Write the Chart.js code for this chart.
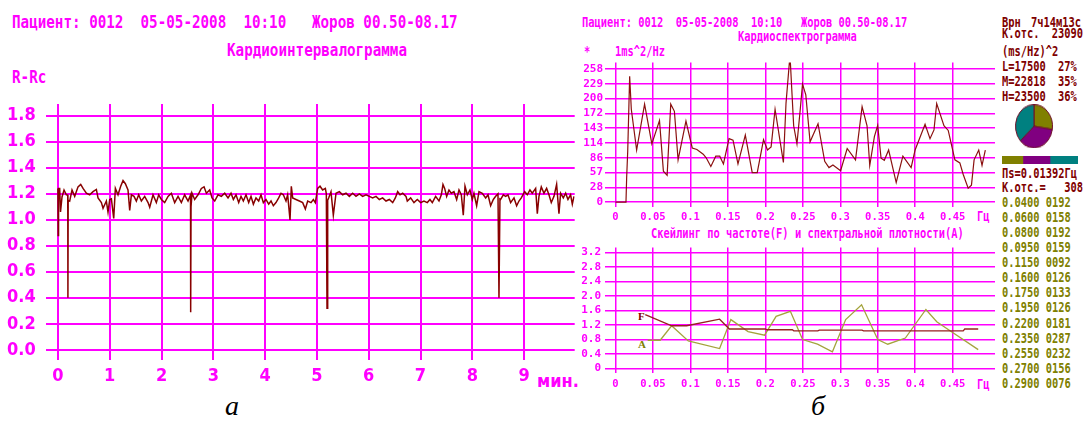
<!DOCTYPE html>
<html lang="ru">
<head>
<meta charset="UTF-8">
<title>Кардиоинтервалограмма и кардиоспектрограмма</title>
<script src="https://cdn.jsdelivr.net/npm/chart.js"></script>
<style>
    html, body { margin: 0; padding: 0; background: #fff; }
    body { width: 1086px; height: 426px; position: relative; overflow: hidden; }
    .box { position: absolute; }
    .t { position: absolute; white-space: pre; line-height: 1; font-family: 'DejaVu Sans Mono', monospace; font-weight: bold; transform-origin: left 50%; }
    .big { font-size: 14.24px; transform: scaleY(1.25); color: #f0f; }
    .sm { font-size: 10.4px; transform: scaleY(1.3); }
    .mg { color: #f0f; }
    .dr { color: #800000; }
    .ol { color: #808000; }
    .cap { position: absolute; font: italic 28px 'Liberation Serif', serif; color: #000; }
</style>
</head>
<body>

<!-- left panel texts -->
<div class="t big" style="left:12px;top:14.6px">Пациент: 0012  05-05-2008  10:10   Жоров 00.50-08.17</div>
<div class="t big" style="left:227px;top:43px">Кардиоинтервалограмма</div>
<div class="t big" style="left:12px;top:69.6px">R-Rc</div>
<div class="t mg" style="left:537px;top:370px;font:bold 18px 'Liberation Sans Narrow','DejaVu Sans Condensed',sans-serif">мин.</div>

<!-- right panel texts -->
<div class="t sm mg" style="left:582px;top:16.5px">Пациент: 0012  05-05-2008  10:10   Жоров 00.50-08.17</div>
<div class="t sm mg" style="left:738px;top:30.8px">Кардиоспектрограмма</div>
<div class="t sm mg" style="left:584px;top:45.5px">*</div>
<div class="t sm mg" style="left:615px;top:45.5px">1ms^2/Hz</div>
<div class="t sm mg" style="left:977px;top:211px">Гц</div>
<div class="t sm mg" style="left:651px;top:228.1px">Скейлинг по частоте(F) и спектральной плотности(A)</div>
<div class="t sm mg" style="left:977px;top:379px">Гц</div>
<div class="t dr" style="left:638px;top:310px;font:bold 11px 'Liberation Serif',serif">F</div>
<div class="t ol" style="left:638px;top:337.5px;font:bold 11px 'Liberation Serif',serif">A</div>

<!-- right column -->
<div class="t sm dr" style="left:1002px;top:16.5px">Врн</div>
<div class="t sm dr" style="left:1031px;top:16.5px">7ч14м13с</div>
<div class="t sm dr" style="left:1002px;top:28.1px">К.отс.</div>
<div class="t sm dr" style="right:3px;top:28.1px">23090</div>
<div class="t sm dr" style="left:1002px;top:45.5px">(ms/Hz)^2</div>
<div class="t sm dr" style="left:1002px;top:60.8px">L=17500</div>
<div class="t sm dr" style="left:1058px;top:60.8px">27%</div>
<div class="t sm dr" style="left:1002px;top:75.5px">M=22818</div>
<div class="t sm dr" style="left:1058px;top:75.5px">35%</div>
<div class="t sm dr" style="left:1002px;top:90.8px">H=23500</div>
<div class="t sm dr" style="left:1058px;top:90.8px">36%</div>
<div class="t sm dr" style="left:1002px;top:167.5px">Пs=0.01392Гц</div>
<div class="t sm dr" style="left:1002px;top:182.1px">К.отс.=</div>
<div class="t sm dr" style="right:3px;top:182.1px">308</div>
<div class="t sm ol" style="left:1002px;top:196.5px">0.0400 0192</div>
<div class="t sm ol" style="left:1002px;top:211.8px">0.0600 0158</div>
<div class="t sm ol" style="left:1002px;top:227.1px">0.0800 0192</div>
<div class="t sm ol" style="left:1002px;top:242.1px">0.0950 0159</div>
<div class="t sm ol" style="left:1002px;top:257.1px">0.1150 0092</div>
<div class="t sm ol" style="left:1002px;top:272.1px">0.1600 0126</div>
<div class="t sm ol" style="left:1002px;top:287.1px">0.1750 0133</div>
<div class="t sm ol" style="left:1002px;top:302.1px">0.1950 0126</div>
<div class="t sm ol" style="left:1002px;top:317.5px">0.2200 0181</div>
<div class="t sm ol" style="left:1002px;top:332.5px">0.2350 0287</div>
<div class="t sm ol" style="left:1002px;top:347.5px">0.2550 0232</div>
<div class="t sm ol" style="left:1002px;top:362.5px">0.2700 0156</div>
<div class="t sm ol" style="left:1002px;top:378.1px">0.2900 0076</div>

<div class="cap" style="left:225px;top:390px">а</div>
<div class="cap" style="left:811px;top:390px">б</div>

<div class="box" style="left:0;top:85px"><canvas id="rrChart" width="600" height="305"></canvas></div>
<div class="box" style="left:575px;top:55px"><canvas id="specChart" width="425" height="170"></canvas></div>
<div class="box" style="left:575px;top:238px"><canvas id="scaleChart" width="425" height="155"></canvas></div>
<div class="box" style="left:1015px;top:104px;width:38px;height:38px;transform:scaleY(1.17);transform-origin:top left"><canvas id="pieChart" width="38" height="38"></canvas></div>
<div class="box" style="left:1002px;top:156px"><canvas id="bandBar" width="76" height="8"></canvas></div>

<script>
// ---- left: R-R intervals (s) over time (min)
const rrMinutes = [
    0.000, 0.005, 0.012, 0.034, 0.050, 0.079, 0.118, 0.163, 0.190, 0.193,
    0.198, 0.227, 0.272, 0.324, 0.388, 0.440, 0.485, 0.549, 0.613, 0.678,
    0.742, 0.774, 0.839, 0.871, 0.935, 0.967, 1.000, 1.032, 1.077, 1.109,
    1.160, 1.212, 1.257, 1.302, 1.353, 1.386, 1.418, 1.469, 1.514, 1.559,
    1.611, 1.675, 1.740, 1.772, 1.836, 1.900, 1.945, 1.997, 2.061, 2.126,
    2.190, 2.254, 2.319, 2.383, 2.447, 2.512, 2.560, 2.563, 2.570, 2.589,
    2.640, 2.705, 2.769, 2.821, 2.866, 2.930, 2.975, 3.027, 3.091, 3.155,
    3.220, 3.284, 3.342, 3.387, 3.438, 3.490, 3.535, 3.580, 3.631, 3.683,
    3.728, 3.773, 3.824, 3.876, 3.921, 3.966, 4.017, 4.069, 4.114, 4.159,
    4.210, 4.262, 4.307, 4.352, 4.403, 4.435, 4.481, 4.506, 4.532, 4.596,
    4.661, 4.725, 4.777, 4.822, 4.886, 4.931, 4.970, 5.015, 5.060, 5.111,
    5.163, 5.182, 5.195, 5.208, 5.227, 5.272, 5.317, 5.369, 5.433, 5.497,
    5.562, 5.626, 5.690, 5.755, 5.819, 5.883, 5.948, 6.012, 6.076, 6.141,
    6.205, 6.269, 6.334, 6.398, 6.463, 6.514, 6.559, 6.604, 6.656, 6.720,
    6.745, 6.810, 6.874, 6.938, 7.003, 7.067, 7.131, 7.183, 7.228, 7.292,
    7.357, 7.402, 7.434, 7.466, 7.505, 7.550, 7.595, 7.646, 7.698, 7.743,
    7.788, 7.826, 7.859, 7.904, 7.955, 8.000, 8.032, 8.084, 8.129, 8.193,
    8.258, 8.303, 8.354, 8.406, 8.451, 8.496, 8.515, 8.534, 8.547, 8.599,
    8.644, 8.689, 8.740, 8.805, 8.856, 8.901, 8.946, 9.011, 9.062, 9.113,
    9.158, 9.223, 9.255, 9.287, 9.332, 9.384, 9.435, 9.480, 9.525, 9.577,
    9.628, 9.673, 9.705, 9.757, 9.802, 9.847, 9.898, 9.931, 9.963
];
const rrValues = [
    1.24, 0.88, 1.24, 1.24, 1.06, 1.175, 1.229, 1.192, 1.19, 0.40,
    1.15, 1.144, 1.229, 1.18, 1.253, 1.272, 1.241, 1.204, 1.192, 1.216,
    1.233, 1.168, 1.132, 1.088, 1.144, 1.059, 1.156, 1.161, 1.011, 1.241,
    1.192, 1.258, 1.301, 1.277, 1.229, 1.071, 1.192, 1.18, 1.144, 1.192,
    1.144, 1.18, 1.132, 1.096, 1.192, 1.132, 1.192, 1.156, 1.132, 1.18,
    1.204, 1.132, 1.18, 1.132, 1.192, 1.144, 1.19, 0.29, 1.10, 1.204,
    1.156, 1.192, 1.241, 1.253, 1.204, 1.229, 1.168, 1.144, 1.192, 1.18,
    1.204, 1.168, 1.204, 1.156, 1.192, 1.132, 1.18, 1.144, 1.192, 1.132,
    1.18, 1.12, 1.168, 1.144, 1.192, 1.132, 1.156, 1.12, 1.144, 1.108,
    1.132, 1.168, 1.204, 1.192, 1.144, 1.192, 0.999, 1.258, 1.168, 1.156,
    1.144, 1.132, 1.083, 1.144, 1.132, 1.156, 1.132, 1.241, 1.258, 1.229,
    1.241, 1.20, 0.32, 1.15, 1.168, 1.216, 1.035, 1.204, 1.216, 1.192,
    1.204, 1.18, 1.204, 1.18, 1.199, 1.18, 1.192, 1.18, 1.168, 1.18,
    1.156, 1.168, 1.144, 1.156, 1.132, 1.168, 1.216, 1.192, 1.204, 1.18,
    1.144, 1.168, 1.132, 1.156, 1.132, 1.144, 1.132, 1.156, 1.132, 1.18,
    1.144, 1.192, 1.272, 1.241, 1.18, 1.229, 1.204, 1.216, 1.156, 1.229,
    1.192, 1.035, 1.258, 1.192, 1.229, 1.156, 1.204, 1.108, 1.216, 1.204,
    1.168, 1.192, 1.108, 1.156, 1.18, 1.199, 0.40, 1.16, 1.156, 1.192,
    1.18, 1.192, 1.132, 1.168, 1.108, 1.144, 1.168, 1.216, 1.192, 1.229,
    1.204, 1.241, 1.047, 1.18, 1.253, 1.204, 1.241, 1.192, 1.132, 1.18,
    1.272, 1.047, 1.204, 1.168, 1.204, 1.156, 1.192, 1.12, 1.18
];
const minuteTicks = [0, 1, 2, 3, 4, 5, 6, 7, 8, 9];
const minuteLabels = ['0', '1', '2', '3', '4', '5', '6', '7', '8', '9'];
const rrTicks = [0, 0.2, 0.4, 0.6, 0.8, 1.0, 1.2, 1.4, 1.6, 1.8];
const rrTickLabels = ['0.0', '0.2', '0.4', '0.6', '0.8', '1.0', '1.2', '1.4', '1.6', '1.8'];

// ---- right top: spectrum
const specHz = [
    0, 0.0141, 0.015, 0.0164, 0.019, 0.0212, 0.0283, 0.0389, 0.0486, 0.0588,
    0.064, 0.069, 0.0738, 0.0787, 0.0836, 0.0941, 0.1025, 0.1087, 0.1171, 0.1211,
    0.1273, 0.1339, 0.1392, 0.1441, 0.1516, 0.1569, 0.1635, 0.1733, 0.1825, 0.1892,
    0.1976, 0.2029, 0.2077, 0.2130, 0.2241, 0.2276, 0.2329, 0.2378, 0.2422, 0.2466,
    0.2496, 0.254, 0.2597, 0.2703, 0.2792, 0.2849, 0.2902, 0.3004, 0.3092, 0.3203,
    0.3291, 0.3357, 0.3393, 0.3455, 0.3499, 0.3544, 0.3587, 0.3645, 0.3746, 0.3835,
    0.3945, 0.3998, 0.4131, 0.4197, 0.4250, 0.4286, 0.4383, 0.4440, 0.4529, 0.4595,
    0.4639, 0.4706, 0.4750, 0.4785, 0.4847, 0.4891, 0.4935
];
const specPower = [
    0, 0, 48, 98, 244, 180, 101, 190, 113, 158,
    60, 52, 190, 176, 82, 157, 105, 102, 93, 86,
    69, 89, 89, 74, 123, 120, 74, 130, 57, 57,
    121, 101, 107, 180, 77, 192, 285, 148, 113, 180,
    229, 208, 117, 152, 79, 67, 72, 61, 104, 82,
    185, 148, 71, 127, 149, 85, 81, 101, 38, 89,
    67, 101, 151, 123, 140, 191, 148, 139, 82, 76,
    54, 27, 33, 82, 101, 71, 101
];
const hzTicks = [0, 0.05, 0.1, 0.15, 0.2, 0.25, 0.3, 0.35, 0.4, 0.45];
const hzLabels = ['0', '0.05', '0.1', '0.15', '0.2', '0.25', '0.3', '0.35', '0.4', '0.45'];
const powTicks = [0, 28.67, 57.33, 86, 114.67, 143.33, 172, 200.67, 229.33, 258];
const powLabels = ['0', '28', '57', '86', '114', '143', '172', '200', '229', '258'];

// ---- right bottom: scaling F and A
const scaleFHz = [0.0398, 0.0751, 0.095, 0.139, 0.152, 0.200, 0.202, 0.236, 0.238, 0.270, 0.272, 0.329, 0.331, 0.464, 0.466, 0.484];
const scaleF = [1.49, 1.18, 1.18, 1.36, 1.09, 1.09, 1.07, 1.07, 1.04, 1.04, 1.06, 1.06, 1.04, 1.04, 1.09, 1.09];
const scaleAHz = [0.043, 0.0597, 0.075, 0.0972, 0.139, 0.154, 0.177, 0.199, 0.2144, 0.2334, 0.2497, 0.2696, 0.2895, 0.3072, 0.3284, 0.35, 0.3633, 0.3868, 0.4142, 0.4287, 0.4464, 0.484];
const scaleA = [0.78, 0.78, 1.18, 0.76, 0.55, 1.35, 1.02, 0.92, 1.44, 1.58, 0.80, 0.67, 0.46, 1.35, 1.76, 0.80, 0.67, 0.84, 1.63, 1.29, 1.04, 0.52];
const scaleTicks = [0, 0.4, 0.8, 1.2, 1.6, 2.0, 2.4, 2.8, 3.2];
const scaleLabels = ['0', '0.4', '0.8', '1.2', '1.6', '2.0', '2.4', '2.8', '3.2'];

// ---- bands L / M / H
const bandNames = ['L', 'M', 'H'];
const bandPower = [17500, 22818, 23500];

const MAGENTA = '#ff00ff';
const BAND_COLORS = ['#808000', '#800080', '#008080'];
const NARROW = "'Liberation Sans Narrow', 'DejaVu Sans Condensed', sans-serif";
const MONO = "'DejaVu Sans Mono', monospace";

const fixedTicks = values => scale => { scale.ticks = values.map(v => ({ value: v })); };
const pts = (xs, ys) => xs.map((x, i) => ({ x: x, y: ys[i] }));
const base = {
    responsive: false,
    animation: false,
    devicePixelRatio: 1,
    plugins: { legend: { display: false }, tooltip: { enabled: false } }
};

function axis(min, max, tickVals, labels, size, opts) {
    return Object.assign({
        type: 'linear', min: min, max: max,
        afterBuildTicks: fixedTicks(tickVals),
        grid: { color: MAGENTA, lineWidth: 1.5, drawTicks: false },
        border: { display: false },
        ticks: {
            color: MAGENTA, autoSkip: false, maxRotation: 0,
            font: { family: MONO, size: size, weight: 'bold', lineHeight: 1 },
            callback: (v, i) => labels[i]
        }
    }, opts);
}

// left chart
const rrX = axis(-0.236, 9.977, minuteTicks, minuteLabels, 18, { afterFit: s => { s.height = 30; } });
rrX.grid.lineWidth = 2;
rrX.ticks.padding = 7;
rrX.ticks.font.family = NARROW;
const rrY = axis(-0.078, 1.89, rrTicks, rrTickLabels, 18, { afterFit: s => { s.width = 45.7; } });
rrY.grid.lineWidth = 2;
rrY.ticks.padding = 10;
rrY.ticks.font.family = NARROW;

new Chart(document.getElementById('rrChart'), {
    type: 'line',
    data: { datasets: [{ data: pts(rrMinutes, rrValues), borderColor: '#880000', borderWidth: 1.5, pointRadius: 0 }] },
    options: Object.assign({}, base, {
        layout: { padding: { top: 4.3, right: 25.3, left: 0, bottom: 0 } },
        scales: { x: rrX, y: rrY }
    })
});

// spectrum
const spX = axis(-0.0139, 0.5064, hzTicks, hzLabels, 10.5, { afterFit: s => { s.height = 18.3; } });
spX.ticks.padding = 5;
const spY = axis(-8.9, 270.7, powTicks, powLabels, 11, { afterFit: s => { s.width = 30; } });
spY.ticks.padding = 2;

new Chart(document.getElementById('specChart'), {
    type: 'line',
    data: { datasets: [{ data: pts(specHz, specPower), borderColor: '#8b1010', borderWidth: 1.2, pointRadius: 0 }] },
    options: Object.assign({}, base, {
        layout: { padding: { top: 4.3, right: 5, left: 0, bottom: 0 } },
        scales: { x: spX, y: spY }
    })
});

// scaling
const scX = axis(-0.0139, 0.5064, hzTicks, hzLabels, 10.5, { afterFit: s => { s.height = 19.7; } });
scX.ticks.padding = 6;
const scY = axis(-0.133, 3.341, scaleTicks, scaleLabels, 11, { afterFit: s => { s.width = 30; } });
scY.ticks.padding = 4;

new Chart(document.getElementById('scaleChart'), {
    type: 'line',
    data: {
        datasets: [
            { label: 'F', data: pts(scaleFHz, scaleF), borderColor: '#962020', borderWidth: 1.3, pointRadius: 0 },
            { label: 'A', data: pts(scaleAHz, scaleA), borderColor: '#a4a43c', borderWidth: 1.3, pointRadius: 0 }
        ]
    },
    options: Object.assign({}, base, {
        layout: { padding: { top: 5, right: 5, left: 0, bottom: 0 } },
        scales: { x: scX, y: scY }
    })
});

// pie of bands
new Chart(document.getElementById('pieChart'), {
    type: 'pie',
    data: { labels: bandNames, datasets: [{ data: bandPower, backgroundColor: BAND_COLORS, borderColor: '#70102a', borderWidth: 1 }] },
    options: Object.assign({}, base, { layout: { padding: 0 } })
});

// band strip
const bandTotal = bandPower.reduce((a, b) => a + b, 0);
new Chart(document.getElementById('bandBar'), {
    type: 'bar',
    data: {
        labels: [''],
        datasets: bandPower.map((v, i) => ({
            label: bandNames[i], data: [v], backgroundColor: BAND_COLORS[i],
            borderWidth: 0, barPercentage: 1, categoryPercentage: 1
        }))
    },
    options: Object.assign({}, base, {
        indexAxis: 'y',
        layout: { padding: 0 },
        scales: {
            x: { stacked: true, display: false, min: 0, max: bandTotal },
            y: { stacked: true, display: false }
        }
    })
});
</script>
</body>
</html>
